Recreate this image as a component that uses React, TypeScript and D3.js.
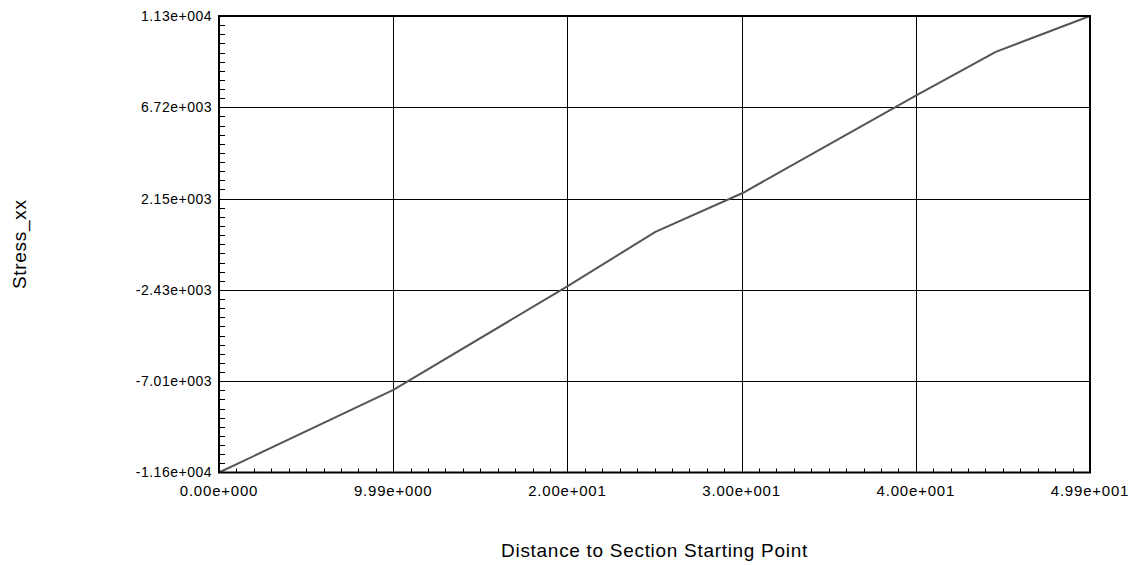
import React from "react";
import * as d3 from "d3";

// Stress_xx sampled along the section line
const distance = [0, 9.99, 20.0, 25.0, 30.0, 40.0, 44.5, 49.9];
const stressXX = [-11600, -7460, -2240, 470, 2420, 7340, 9500, 11300];

const xTickLabels = ["0.00e+000", "9.99e+000", "2.00e+001", "3.00e+001", "4.00e+001", "4.99e+001"];
const yTickLabels = ["-1.16e+004", "-7.01e+003", "-2.43e+003", "2.15e+003", "6.72e+003", "1.13e+004"];

const xDomain = [0, 49.9];
const yDomain = [-11600, 11300];

const W = 1139;
const H = 565;
const plot = { left: 219, right: 1090, top: 16, bottom: 472.5 };
const FONT = "'Liberation Sans', Arial, sans-serif";

export default function App() {
  const x = d3.scaleLinear().domain(xDomain).range([plot.left, plot.right]);
  const y = d3.scaleLinear().domain(yDomain).range([plot.bottom, plot.top]);

  const majors = xTickLabels.length - 1;
  const xMajor = d3.range(majors + 1).map((i) => xDomain[0] + (i * (xDomain[1] - xDomain[0])) / majors);
  const yMajor = d3.range(majors + 1).map((i) => yDomain[0] + (i * (yDomain[1] - yDomain[0])) / majors);
  const sub = 10;
  const xMinor = d3
    .range(majors * sub + 1)
    .filter((i) => i % sub !== 0)
    .map((i) => xDomain[0] + (i * (xDomain[1] - xDomain[0])) / (majors * sub));
  const yMinor = d3
    .range(majors * sub + 1)
    .filter((i) => i % sub !== 0)
    .map((i) => yDomain[0] + (i * (yDomain[1] - yDomain[0])) / (majors * sub));

  const line = d3
    .line<number>()
    .x((_, i) => x(distance[i]))
    .y((d) => y(d));

  const r = (v: number) => Math.round(v) + 0.5;

  return (
    <svg width={W} height={H} style={{ position: "absolute", left: 0, top: 0, background: "#fff" }}>
      {/* grid */}
      {xMajor.slice(1, -1).map((v, i) => (
        <line key={"gx" + i} x1={r(x(v))} x2={r(x(v))} y1={plot.top} y2={plot.bottom} stroke="#000" strokeWidth={1} />
      ))}
      {yMajor.slice(1, -1).map((v, i) => (
        <line key={"gy" + i} x1={plot.left} x2={plot.right} y1={r(y(v))} y2={r(y(v))} stroke="#000" strokeWidth={1} />
      ))}
      {/* minor ticks */}
      {xMinor.map((v, i) => (
        <line key={"mx" + i} x1={r(x(v))} x2={r(x(v))} y1={plot.bottom} y2={plot.bottom - 4} stroke="#000" strokeWidth={1} />
      ))}
      {yMinor.map((v, i) => (
        <line key={"my" + i} x1={plot.left} x2={plot.left + 6} y1={r(y(v))} y2={r(y(v))} stroke="#000" strokeWidth={1} />
      ))}
      {/* data */}
      <path d={line(stressXX) || ""} fill="none" stroke="#555" strokeWidth={2} strokeLinejoin="round" />
      {/* frame */}
      <rect
        x={plot.left}
        y={plot.top}
        width={plot.right - plot.left}
        height={plot.bottom - plot.top}
        fill="none"
        stroke="#000"
        strokeWidth={2}
      />
      {/* tick labels */}
      {xMajor.map((v, i) => (
        <text
          key={"tx" + i}
          x={x(v)}
          y={496}
          textAnchor="middle"
          fontFamily={FONT}
          fontSize={15}
          letterSpacing={0.8}
          fill="#000"
        >
          {xTickLabels[i]}
        </text>
      ))}
      {yMajor.map((v, i) => (
        <text
          key={"ty" + i}
          x={212}
          y={y(v)}
          dy="0.35em"
          textAnchor="end"
          fontFamily={FONT}
          fontSize={14}
          letterSpacing={0.5}
          fill="#000"
        >
          {yTickLabels[i]}
        </text>
      ))}
      {/* axis titles */}
      <text
        x={(plot.left + plot.right) / 2}
        y={557}
        textAnchor="middle"
        fontFamily={FONT}
        fontSize={19}
        letterSpacing={0.7}
        fill="#000"
      >
        Distance to Section Starting Point
      </text>
      <text
        transform={`translate(26,${(plot.top + plot.bottom) / 2}) rotate(-90)`}
        textAnchor="middle"
        fontFamily={FONT}
        fontSize={19}
        letterSpacing={0.7}
        fill="#000"
      >
        Stress_xx
      </text>
    </svg>
  );
}
